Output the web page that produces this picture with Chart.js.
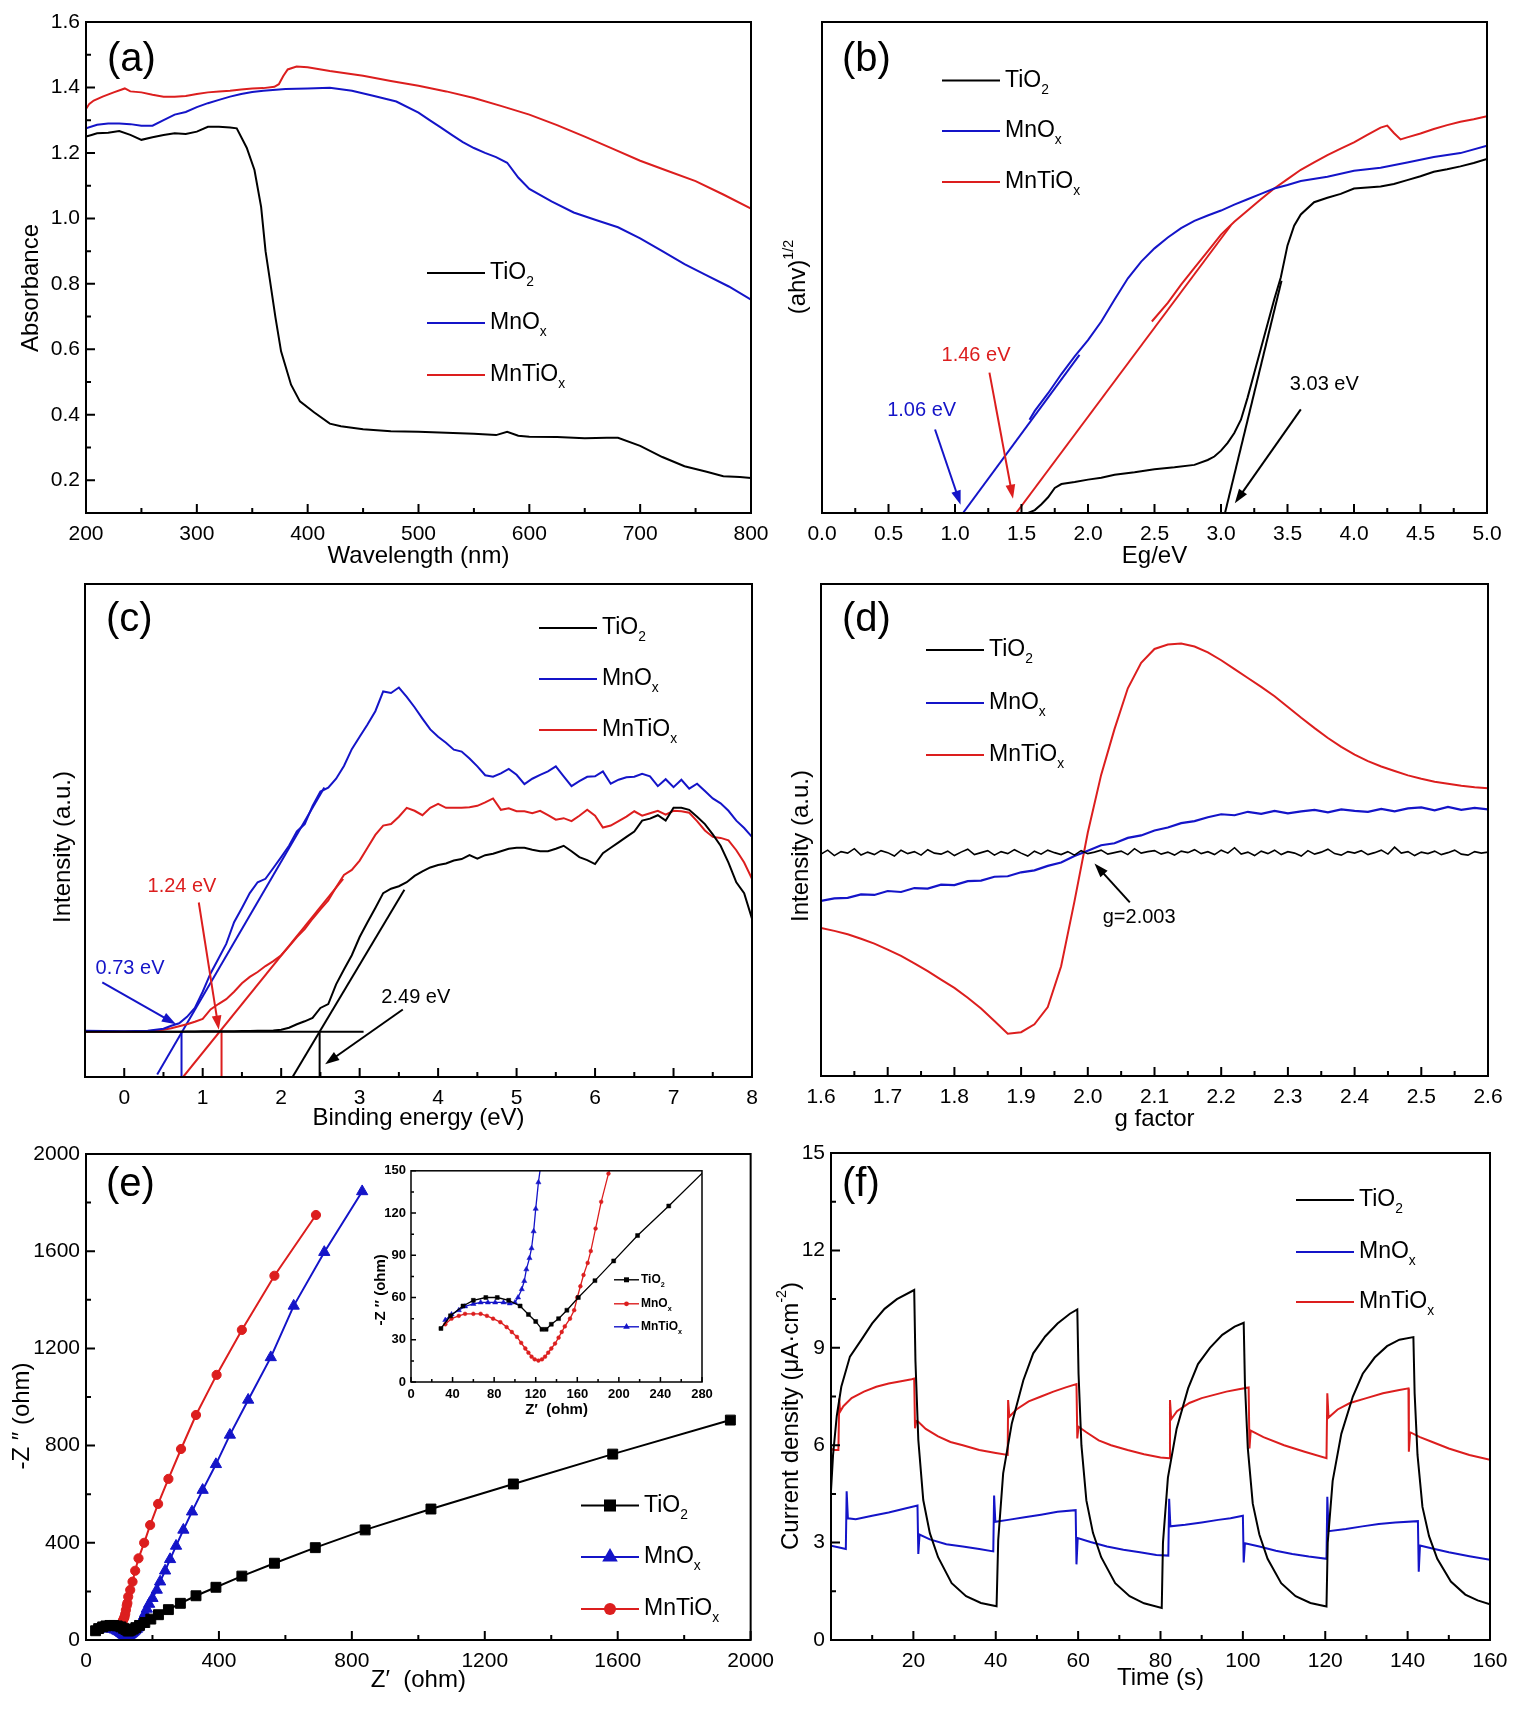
<!DOCTYPE html>
<html>
<head>
<meta charset="utf-8">
<script src="https://cdn.jsdelivr.net/npm/chart.js@4.4.1/dist/chart.umd.min.js"></script>
<style>
html, body { margin: 0; padding: 0; background: #fff; }
#page { position: relative; width: 1514px; height: 1717px; overflow: hidden; background: #fff; }
#page canvas { position: absolute; }
</style>
</head>
<body>
<div id="page"></div>
<script>
// (a) absorbance vs wavelength
var aWlTiO2 = [200,205,210,220,230,240,250,260,270,280,290,300,310,320,330,336,345,352,358,362,366,371,376,385,393,406,420,430,450,475,500,525,550,570,580,590,600,625,650,670,680,700,720,740,760,775,790,800];
var aTiO2 = [1.25,1.255,1.26,1.262,1.267,1.255,1.24,1.248,1.255,1.26,1.258,1.265,1.28,1.28,1.278,1.275,1.216,1.148,1.035,0.90,0.81,0.696,0.594,0.492,0.441,0.407,0.373,0.365,0.356,0.35,0.348,0.345,0.342,0.338,0.348,0.336,0.333,0.332,0.328,0.33,0.33,0.305,0.271,0.243,0.226,0.212,0.21,0.207];
var aWlMnOx = [200,210,220,230,240,250,260,270,280,290,300,310,320,330,340,350,360,380,400,420,440,460,480,500,510,520,530,540,550,560,570,580,590,600,620,640,660,680,700,720,740,760,780,800];
var aMnOx = [1.275,1.286,1.29,1.29,1.288,1.283,1.283,1.30,1.317,1.325,1.34,1.352,1.362,1.372,1.38,1.386,1.39,1.395,1.397,1.399,1.39,1.374,1.357,1.323,1.30,1.278,1.255,1.233,1.215,1.2,1.187,1.17,1.125,1.09,1.052,1.018,0.995,0.973,0.939,0.9,0.86,0.826,0.792,0.752];
var aWlMnTi = [200,203,207,215,225,235,240,250,260,270,280,290,300,310,320,330,340,350,360,370,374,378,382,390,400,420,450,475,500,525,550,575,600,625,650,675,700,725,750,775,800];
var aMnTi = [1.334,1.35,1.36,1.372,1.385,1.397,1.388,1.385,1.378,1.372,1.372,1.374,1.38,1.385,1.388,1.39,1.394,1.397,1.398,1.402,1.41,1.435,1.455,1.464,1.462,1.45,1.436,1.42,1.405,1.388,1.368,1.343,1.317,1.285,1.25,1.213,1.176,1.145,1.114,1.073,1.03];
var aXTicks = [200,300,400,500,600,700,800];
var aYTicks = [0.2,0.4,0.6,0.8,1.0,1.2,1.4,1.6];

// (b) Tauc plot
var bETiO2 = [1.55,1.6,1.65,1.7,1.75,1.8,1.9,2.0,2.1,2.2,2.35,2.5,2.65,2.8,2.9,2.95,3.0,3.05,3.1,3.15,3.2,3.25,3.3,3.35,3.4,3.45,3.5,3.55,3.6,3.7,3.8,3.9,4.0,4.1,4.2,4.3,4.4,4.5,4.6,4.7,4.8,4.9,5.0];
var bTiO2 = [0,0.6,1.8,3.2,5.1,5.9,6.3,6.8,7.2,7.8,8.3,8.9,9.3,9.8,10.8,11.5,12.7,14.3,16.3,19.0,23.5,28.5,33.5,38.5,43.5,48.0,54.5,58.5,60.8,63.3,64.2,65.0,66.1,66.3,66.5,67.0,67.8,68.6,69.5,70.0,70.6,71.3,72.1];
var bEMnOx = [1.56,1.6,1.7,1.8,1.9,2.0,2.1,2.2,2.3,2.4,2.5,2.6,2.7,2.8,2.9,3.0,3.1,3.2,3.3,3.4,3.5,3.6,3.8,4.0,4.2,4.4,4.6,4.8,5.0];
var bMnOx = [19.0,20.8,24.4,28.3,31.9,35.2,39,43.5,47.8,51.2,53.9,56.1,58.0,59.5,60.6,61.6,62.8,63.9,65.0,66.1,66.8,67.6,68.5,69.7,70.3,71.4,72.5,73.3,74.8];
var bEMnTi = [2.48,2.6,2.7,2.8,2.9,3.0,3.1,3.2,3.3,3.4,3.5,3.6,3.7,3.8,3.9,4.0,4.1,4.2,4.25,4.3,4.35,4.4,4.5,4.6,4.7,4.8,4.9,5.0];
var bMnTi = [39,42.8,46.5,49.9,53.3,56.7,59.3,61.6,63.9,66.1,68,69.9,71.4,72.9,74.2,75.5,77,78.5,78.9,77.4,76.1,76.5,77.3,78.2,79,79.7,80.2,80.8];
var bFitTiO2X = [3.03, 3.455], bFitTiO2Y = [0, 47.3];
var bFitMnOxX = [1.06, 1.936], bFitMnOxY = [0, 32.2];
var bFitMnTiX = [1.46, 3.075], bFitMnTiY = [0, 58.6];
var bXTicks = [0,0.5,1.0,1.5,2.0,2.5,3.0,3.5,4.0,4.5,5.0];

// (c) valence band XPS
var cBE = [-0.5,0,0.3,0.5,0.6,0.7,0.8,0.9,1.0,1.1,1.2,1.3,1.4,1.5,1.6,1.7,1.8,1.9,2.0,2.1,2.2,2.3,2.4,2.5,2.6,2.7,2.8,2.9,3.0,3.1,3.2,3.3,3.4,3.5,3.6,3.7,3.8,3.9,4.0,4.1,4.2,4.3,4.4,4.5,4.6,4.7,4.8,4.9,5.0,5.1,5.2,5.3,5.4,5.5,5.6,5.7,5.8,5.9,6.0,6.1,6.2,6.3,6.4,6.5,6.6,6.7,6.8,6.9,7.0,7.1,7.2,7.3,7.4,7.5,7.6,7.7,7.8,7.9,8.0];
var cMnOx = [9.4,9.3,9.4,9.8,10.4,10.9,12.2,14.0,17.3,21.0,24.0,27.0,31.4,34.3,37.3,39.5,40.2,42.4,44.6,46.9,49.8,51.3,55.0,57.9,58.7,60.5,63.1,66.5,69.0,71.5,74.2,78.2,77.9,79.0,77.1,75.0,72.7,70.5,69.0,67.8,66.4,66.0,64.6,63.0,61.2,60.9,61.6,62.5,61.3,59.4,60.5,61.3,62.0,63.0,61.0,59.0,60.0,60.9,61.0,62.0,59.5,60.3,60.8,60.9,61.5,61.0,59.0,60.4,58.8,60.3,58.5,59.5,58.0,56.5,55.5,54.0,52.0,50.5,48.7];
var cMnTi = [9.2,9.2,9.3,9.6,9.9,10.3,10.7,11.2,11.8,13.7,14.8,15.8,17.3,19.0,20.3,21.3,22.5,23.5,24.7,26.5,28.4,30.0,32.1,34.0,35.8,38.5,41.0,42.0,43.9,46.5,49.1,51.0,51.3,52.8,54.6,54.0,53.1,54.6,55.4,54.6,54.6,54.6,54.7,55.0,55.7,56.5,54.2,54.5,53.9,53.9,53.5,54.0,53.1,52.2,52.5,51.9,53.0,54.2,53.0,50.6,51.0,51.9,52.8,53.9,53.0,53.5,54.0,53.2,54.0,53.9,53.6,51.9,50.0,48.7,48.5,48.0,46.0,43.5,40.2];
var cTiO2 = [9.2,9.2,9.2,9.2,9.2,9.2,9.25,9.25,9.3,9.3,9.3,9.3,9.3,9.35,9.35,9.4,9.4,9.45,9.6,10.0,10.7,11.3,12.0,14.0,14.8,18.8,21.8,24.7,28.4,31.4,34.3,37.3,38.2,38.7,39.5,40.8,41.7,42.5,43.0,43.3,43.9,44.2,45.0,44.3,45.0,45.3,45.8,46.3,46.5,46.5,46.1,45.8,45.8,46.3,46.9,45.8,44.6,44.0,43.2,45.4,46.5,47.6,48.7,49.8,52.0,52.4,53.1,52.0,54.6,54.6,54.2,52.8,51.3,49.2,46.9,43.5,39.5,37.3,32.1];
var cBaseX = [-0.5, 3.05], cBaseY = [9.2, 9.2];
var cFitMnOxX = [0.42, 2.55], cFitMnOxY = [0.5, 58.7];
var cFitMnTiX = [0.75, 2.79], cFitMnTiY = [0, 40.2];
var cFitTiO2X = [2.145, 3.57], cFitTiO2Y = [0, 38];
var cDropMnOxX = [0.73, 0.73], cDropMnTiX = [1.24, 1.24], cDropTiO2X = [2.49, 2.49], cDropY = [0, 9.2];
var cXTicks = [0,1,2,3,4,5,6,7,8];

// (d) EPR
var dGFine = [1.60,1.61,1.62,1.63,1.64,1.65,1.66,1.67,1.68,1.69,1.70,1.71,1.72,1.73,1.74,1.75,1.76,1.77,1.78,1.79,1.80,1.81,1.82,1.83,1.84,1.85,1.86,1.87,1.88,1.89,1.90,1.91,1.92,1.93,1.94,1.95,1.96,1.97,1.98,1.99,2.00,2.01,2.02,2.03,2.04,2.05,2.06,2.07,2.08,2.09,2.10,2.11,2.12,2.13,2.14,2.15,2.16,2.17,2.18,2.19,2.20,2.21,2.22,2.23,2.24,2.25,2.26,2.27,2.28,2.29,2.30,2.31,2.32,2.33,2.34,2.35,2.36,2.37,2.38,2.39,2.40,2.41,2.42,2.43,2.44,2.45,2.46,2.47,2.48,2.49,2.50,2.51,2.52,2.53,2.54,2.55,2.56,2.57,2.58,2.59,2.60];
var dTiO2 = [45.1,45.9,44.8,45.6,45.3,46.2,44.9,45.5,45.0,45.8,45.4,44.7,45.9,45.2,45.6,44.9,46.0,45.3,45.1,45.7,44.8,45.5,46.1,45.0,45.4,45.8,44.9,45.6,45.2,46.0,45.3,44.7,45.7,45.1,45.9,45.4,45.0,45.6,44.9,45.8,45.2,45.5,45.9,45.1,45.4,45.7,45.0,46.2,45.3,45.6,45.8,45.1,45.5,44.9,45.7,45.4,46.0,45.2,45.6,45.0,45.9,45.3,46.4,45.1,45.5,44.8,45.7,45.2,45.9,45.0,45.6,45.3,44.7,45.8,45.1,45.5,46.1,45.2,44.9,45.6,45.3,45.8,45.0,45.4,45.9,45.1,46.5,45.3,45.6,44.8,45.5,45.2,45.7,45.0,45.4,45.9,45.1,44.9,45.6,45.3,45.5];
var dG = [1.6,1.62,1.64,1.66,1.68,1.7,1.72,1.74,1.76,1.78,1.8,1.82,1.84,1.86,1.88,1.9,1.92,1.94,1.96,1.98,2.0,2.02,2.04,2.06,2.08,2.1,2.12,2.14,2.16,2.18,2.2,2.22,2.24,2.26,2.28,2.3,2.32,2.34,2.36,2.38,2.4,2.42,2.44,2.46,2.48,2.5,2.52,2.54,2.56,2.58,2.6];
var dMnOx = [35.6,36.1,36.2,36.9,36.8,37.6,37.4,38.2,38.1,38.9,38.8,39.6,39.7,40.5,40.6,41.4,41.8,42.7,43.4,44.7,45.8,46.9,47.3,48.4,48.9,49.9,50.5,51.4,51.8,52.6,53.2,53.0,53.7,53.3,53.9,53.4,53.8,54.1,53.6,54.2,53.9,53.7,54.3,53.8,54.4,54.6,54.0,54.7,54.1,54.5,54.2];
var dMnTi = [30.1,29.5,28.8,27.9,26.9,25.7,24.4,22.9,21.3,19.6,17.9,15.9,13.7,11.2,8.6,8.9,10.5,14.0,22.3,35.5,49.5,61.2,70.5,78.8,84.0,86.8,87.7,87.9,87.3,86.1,84.5,82.7,80.9,79.1,77.2,75.0,72.8,70.7,68.7,66.9,65.3,64.0,62.9,62.0,61.1,60.4,59.8,59.4,59.0,58.7,58.5];
var dXTicks = [1.6,1.7,1.8,1.9,2.0,2.1,2.2,2.3,2.4,2.5,2.6];

// (e) Nyquist plots (inset shows the same points near the origin)
var eTiO2X = [28.8,38,50,60,72,83,94,105,113,120,126,130,135,142,150,161,177,195,218,248,284,331,391,469,567,690,840,1038,1286,1585,1939];
var eTiO2Y = [38,47,54,58,60,60,58,54,48,43,37.4,37.4,41,45,51,60,72,86,104,125,151,182,217,263,316,380,453,539,642,765,905];
var eMnOxX = [33,39,46,52,60,67,73,79,86,92,97,102,106,110,113,116,119,122.6,126,129,132,135,138.6,142,145,148,153,157,160,163,166,170,173,177.6,183,190,200,213,223,238,253,271,293,319,351,391,433,488,556,625,717,831];
var eMnOxY = [41,45,47,48.4,48.4,48.4,47,45,42.5,39,35.5,32,27.8,23.8,20.8,18,16.1,15.2,16.1,18,20.8,23.8,27.3,31.5,35.5,39.5,45,51,60,68,76,84.6,93,109,128,148,172,206,240,285,332,387,453,528,617,723,844,988,1163,1375,1596,1846];
var eMnTiX = [33,39,46,52,60,67,74,81,89,95,100,103,106.6,109,111,114,116,118,120,122.6,124.5,127,133,140,148,158,175,193,217,248,286,331,393,469,567,692];
var eMnTiY = [44,48,51,53.7,55.4,56.5,56.5,56.5,56.5,55.8,56.5,60,65.9,71.7,80,88,95,107,123,141.8,152,178,206,240,285,336,400,473,560,663,786,926,1091,1276,1499,1749];
var eTicks = [0,400,800,1200,1600,2000];
var insXTicks = [0,40,80,120,160,200,240,280];
var insYTicks = [0,30,60,90,120,150];

// (f) photocurrent response
var fTTiO2 = [0,0.5,1.4,2.5,4.6,7.4,10,13,16,20.2, 20.5,21.2,22.4,24,26,29.3,32.8,36.4,40.2, 40.6,41.8,43.9,46.7,49.1,52,55,58,59.8, 60.1,60.8,62,63.6,65.6,69,72.5,76,80.3, 80.6,81.8,83.9,86.7,89.1,92,95,98,100.2, 100.5,101.2,102.4,104,106,109.3,112.8,116.4,120.3, 120.6,121.8,123.9,126.7,129.1,132,135,138,141.4, 141.7,142.4,143.6,145.2,147.2,150.5,154,157,160];
var fTiO2 = [4.6,5.7,6.9,7.8,8.73,9.25,9.75,10.2,10.5,10.78, 8.6,6.16,4.31,3.29,2.55,1.75,1.35,1.14,1.04, 3.08,5.13,6.67,8.0,8.83,9.35,9.75,10.05,10.18, 8.2,6.0,4.3,3.3,2.55,1.75,1.35,1.13,0.99, 3.0,5.0,6.5,7.75,8.5,9.0,9.4,9.65,9.77, 7.9,5.9,4.2,3.25,2.5,1.75,1.35,1.14,1.03, 3.0,4.9,6.35,7.5,8.2,8.7,9.05,9.25,9.33, 7.6,5.7,4.1,3.2,2.5,1.8,1.4,1.22,1.1];
var fTMnOx = [0,2,3.6,3.8,4.1,6,10,14,18,21.0, 21.2,21.5,24,28,32,36,39.4, 39.6,39.9,43,47,51,55,59.4, 59.6,59.9,63,67,71,75,79,81.9, 82.1,82.4,86,90,94,97,100, 100.2,100.5,104,108,112,116,120.3, 120.5,120.8,125,129,133,137,142.5, 142.7,143,146,150,155,160];
var fMnOx = [2.9,2.85,2.8,4.58,3.75,3.72,3.83,3.93,4.05,4.14, 2.65,3.25,3.1,2.95,2.88,2.8,2.73, 4.45,3.64,3.7,3.78,3.86,3.95,4.0, 2.33,3.14,3.02,2.88,2.78,2.7,2.62,2.6, 4.35,3.5,3.55,3.62,3.7,3.75,3.83, 2.39,2.98,2.88,2.75,2.65,2.57,2.5, 4.41,3.35,3.42,3.5,3.57,3.62,3.66, 2.1,2.91,2.82,2.7,2.58,2.47];
var fTMnTi = [0,0.6,1.8,2.0,2.2,3,5,8,11,14,17,19.6,20.2, 20.4,20.7,21.2,23,26,29,32,36,40,42.9, 43.0,43.3,45,48,51,54,57,59.6, 59.8,60.1,62,65,68,72,76,80,82.2, 82.3,82.6,84,87,90,93,96,99,101.4, 101.6,101.9,105,110,115,120.3, 120.5,120.8,123,126,130,134,138,140.2, 140.3,140.6,143,146,150,155,160];
var fMnTi = [5.9,5.85,5.85,7.44,7.03,7.2,7.45,7.65,7.8,7.9,7.97,8.03,8.05, 6.52,6.75,6.72,6.5,6.27,6.1,6.0,5.85,5.76,5.7, 7.39,6.88,7.1,7.35,7.5,7.65,7.78,7.88, 6.21,6.57,6.4,6.15,6.0,5.85,5.72,5.62,5.6, 7.39,6.8,7.05,7.3,7.45,7.55,7.65,7.72,7.78, 5.9,6.45,6.25,6.0,5.8,5.6, 7.6,6.85,7.1,7.3,7.45,7.6,7.7,7.75, 5.8,6.4,6.25,6.1,5.9,5.7,5.55];
var fXTicks = [20,40,60,80,100,120,140,160];
var fYTicks = [0,3,6,9,12,15];

var FONT = '"Liberation Sans", Arial, Helvetica, sans-serif';
var BLACK = '#000000', BLUE = '#1414c8', RED = '#dc1e1e';
var page = document.getElementById('page');

function xy(xs, ys) { return xs.map(function (v, i) { return {x: v, y: ys[i]}; }); }

function line(xs, ys, color, extra) {
  return Object.assign({data: xy(xs, ys), borderColor: color, backgroundColor: color,
    showLine: true, pointRadius: 0, borderWidth: 2, tension: 0}, extra || {});
}

// text with _{sub} and ^{sup} parts
function rich(ctx, s, x, y, size, opt) {
  opt = opt || {};
  var parts = [], re = /([_^])\{([^}]*)\}/g, last = 0, m;
  while ((m = re.exec(s))) {
    if (m.index > last) parts.push({t: s.slice(last, m.index), k: ''});
    parts.push({t: m[2], k: m[1]});
    last = re.lastIndex;
  }
  if (last < s.length) parts.push({t: s.slice(last), k: ''});
  var font = function (k) { return (opt.weight || 'normal') + ' ' + (k ? size * 0.6 : size) + 'px ' + FONT; };
  var w = 0;
  parts.forEach(function (p) { ctx.font = font(p.k); p.w = ctx.measureText(p.t).width; w += p.w; });
  ctx.save();
  ctx.translate(x, y);
  if (opt.rot) ctx.rotate(opt.rot);
  var cx = opt.align === 'center' ? -w / 2 : 0;
  ctx.textAlign = 'left'; ctx.textBaseline = 'middle';
  ctx.fillStyle = opt.color || '#000';
  parts.forEach(function (p) {
    ctx.font = font(p.k);
    var dy = p.k === '_' ? size * 0.42 : (p.k === '^' ? -size * 0.38 : 0);
    ctx.fillText(p.t, cx, dy);
    cx += p.w;
  });
  ctx.restore();
}

function marker(ctx, style, x, y, r) {
  ctx.beginPath();
  if (style === 'rect') {
    var h = r * Math.SQRT1_2;
    ctx.rect(x - h, y - h, 2 * h, 2 * h);
  } else if (style === 'triangle') {
    ctx.moveTo(x, y - r);
    ctx.lineTo(x + r * 0.866, y + r * 0.5);
    ctx.lineTo(x - r * 0.866, y + r * 0.5);
    ctx.closePath();
  } else {
    ctx.arc(x, y, r, 0, Math.PI * 2);
  }
  ctx.fill();
}

function arrow(ctx, x1, y1, x2, y2, color, head) {
  var ang = Math.atan2(y2 - y1, x2 - x1);
  ctx.strokeStyle = color; ctx.fillStyle = color; ctx.lineWidth = 2;
  ctx.beginPath();
  ctx.moveTo(x1, y1);
  ctx.lineTo(x2 - Math.cos(ang) * head * 0.8, y2 - Math.sin(ang) * head * 0.8);
  ctx.stroke();
  ctx.beginPath();
  ctx.moveTo(x2, y2);
  ctx.lineTo(x2 - head * Math.cos(ang - 0.33), y2 - head * Math.sin(ang - 0.33));
  ctx.lineTo(x2 - head * Math.cos(ang + 0.33), y2 - head * Math.sin(ang + 0.33));
  ctx.closePath();
  ctx.fill();
}

// inward major + minor tick marks, taken from the scale's own ticks
function tickValues(scale) {
  var major = scale.ticks.map(function (t) { return t.value; });
  var minor = [];
  if (major.length > 1) {
    var step = major[1] - major[0], eps = step * 1e-3;
    major.forEach(function (v) { if (v - step / 2 > scale.min + eps) minor.push(v - step / 2); });
    var lastV = major[major.length - 1] + step / 2;
    if (lastV < scale.max - eps) minor.push(lastV);
  }
  return {major: major, minor: minor};
}

var decor = {
  id: 'decor',
  afterDatasetsDraw: function (chart, args, o) {
    var ctx = chart.ctx, a = chart.chartArea, sx = chart.scales.x, sy = chart.scales.y;
    var px = function (v) { return sx.getPixelForValue(v); };
    var py = function (v) { return sy.getPixelForValue(v); };
    ctx.save();
    (o.arrows || []).forEach(function (r) {
      arrow(ctx, px(r.from[0]), py(r.from[1]), px(r.to[0]), py(r.to[1]), r.color, o.head || 15);
    });
    (o.notes || []).forEach(function (n) {
      rich(ctx, n.text, px(n.at[0]), py(n.at[1]), 20, {align: 'center', color: n.color});
    });
    ctx.strokeStyle = '#000';
    ctx.lineWidth = o.frame || 2;
    ctx.strokeRect(a.left, a.top, a.right - a.left, a.bottom - a.top);
    var tl = o.tickLen || [9, 5];
    ctx.beginPath();
    if (o.xTicks) {
      var tx = tickValues(sx);
      tx.major.forEach(function (v) { ctx.moveTo(px(v), a.bottom); ctx.lineTo(px(v), a.bottom - tl[0]); });
      tx.minor.forEach(function (v) { ctx.moveTo(px(v), a.bottom); ctx.lineTo(px(v), a.bottom - tl[1]); });
    }
    if (o.yTicks) {
      var ty = tickValues(sy);
      ty.major.forEach(function (v) { ctx.moveTo(a.left, py(v)); ctx.lineTo(a.left + tl[0], py(v)); });
      ty.minor.forEach(function (v) { ctx.moveTo(a.left, py(v)); ctx.lineTo(a.left + tl[1], py(v)); });
    }
    ctx.stroke();
    if (o.legend) {
      var L = o.legend;
      L.rows.forEach(function (r) {
        var x0 = a.left + L.dx, y0 = a.top + r.dy;
        ctx.strokeStyle = r.color; ctx.fillStyle = r.color; ctx.lineWidth = L.width || 2;
        ctx.beginPath(); ctx.moveTo(x0, y0); ctx.lineTo(x0 + L.len, y0); ctx.stroke();
        if (r.marker) marker(ctx, r.marker, x0 + L.len / 2, y0, r.radius);
        rich(ctx, r.text, x0 + L.len + (L.gap || 5), y0, L.size, {weight: L.weight});
      });
    }
    if (o.xTitle) {
      rich(ctx, o.xTitle.text, (a.left + a.right) / 2 + (o.xTitle.dx || 0), a.bottom + o.xTitle.dy,
        o.xTitle.size || 24, {align: 'center', weight: o.xTitle.weight});
    }
    if (o.yTitle) {
      rich(ctx, o.yTitle.text, a.left + o.yTitle.dx, a.top + o.yTitle.dy,
        o.yTitle.size || 24, {align: 'center', rot: -Math.PI / 2, weight: o.yTitle.weight});
    }
    if (o.tag) rich(ctx, o.tag.text, a.left + o.tag.dx, a.top + o.tag.dy, 40, {});
    ctx.restore();
  }
};

function axis(min, max, ticks, opt) {
  opt = opt || {};
  return {
    type: 'linear', min: min, max: max,
    afterBuildTicks: function (s) { s.ticks = ticks.map(function (v) { return {value: v}; }); },
    grid: {display: false, drawTicks: false}, border: {display: false},
    ticks: {
      display: opt.show !== false, color: '#000', padding: opt.pad,
      maxRotation: 0, autoSkip: false,
      font: {family: FONT, size: opt.size || 21, weight: opt.weight || 'normal'},
      callback: function (v) { return v.toFixed(opt.dec || 0); }
    }
  };
}

// box = plot area on the page [left, top, right, bottom]; pad = room round it [l, t, r, b]
function panel(box, pad, datasets, xs, ys, deco) {
  var cv = document.createElement('canvas');
  var w = box[2] - box[0] + pad[0] + pad[2], h = box[3] - box[1] + pad[1] + pad[3];
  cv.width = w; cv.height = h;
  cv.style.left = (box[0] - pad[0]) + 'px';
  cv.style.top = (box[1] - pad[1]) + 'px';
  cv.style.width = w + 'px'; cv.style.height = h + 'px';
  page.appendChild(cv);
  xs.afterFit = function (s) { s.height = pad[3]; };
  ys.afterFit = function (s) { s.width = pad[0]; };
  return new Chart(cv, {
    type: 'scatter',
    data: {datasets: datasets},
    options: {
      responsive: false, animation: false, devicePixelRatio: 1,
      layout: {padding: {left: 0, top: pad[1], right: pad[2], bottom: 0}},
      plugins: {legend: {display: false}, tooltip: {enabled: false}, decor: deco},
      scales: {x: xs, y: ys}
    },
    plugins: [decor]
  });
}

var PAD = [84, 22, 32, 70];
var XP = 9, YP = 6;
var legendRows = function (dys) {
  return [
    {dy: dys[0], text: 'TiO_{2}', color: BLACK},
    {dy: dys[1], text: 'MnO_{x}', color: BLUE},
    {dy: dys[2], text: 'MnTiO_{x}', color: RED}
  ];
};

// (a)
panel([86, 22, 751, 513], PAD, [
  line(aWlTiO2, aTiO2, BLACK),
  line(aWlMnOx, aMnOx, BLUE),
  line(aWlMnTi, aMnTi, RED)
], axis(200, 800, aXTicks, {pad: XP}), axis(0.1, 1.6, aYTicks, {dec: 1, pad: YP}), {
  xTicks: true, yTicks: true,
  legend: {dx: 341, len: 58, size: 23, rows: legendRows([251, 301, 353])},
  xTitle: {text: 'Wavelength (nm)', dy: 43},
  yTitle: {text: 'Absorbance', dx: -55, dy: 266},
  tag: {text: '(a)', dx: 21, dy: 38}
});

// (b)
panel([822, 22, 1487, 513], PAD, [
  line(bETiO2, bTiO2, BLACK),
  line(bEMnOx, bMnOx, BLUE),
  line(bEMnTi, bMnTi, RED),
  line(bFitTiO2X, bFitTiO2Y, BLACK),
  line(bFitMnOxX, bFitMnOxY, BLUE),
  line(bFitMnTiX, bFitMnTiY, RED)
], axis(0, 5, bXTicks, {dec: 1, pad: XP}), axis(0, 100, [0, 100], {show: false}), {
  xTicks: true,
  legend: {dx: 120, len: 58, size: 23, rows: legendRows([58.6, 109, 160])},
  arrows: [
    {from: [0.85, 17.0], to: [1.042, 1.7], color: BLUE},
    {from: [1.259, 28.6], to: [1.436, 2.9], color: RED},
    {from: [3.60, 21.1], to: [3.104, 2.0], color: BLACK}
  ],
  notes: [
    {text: '1.06 eV', at: [0.749, 20.8], color: BLUE},
    {text: '1.46 eV', at: [1.158, 32.1], color: RED},
    {text: '3.03 eV', at: [3.777, 26.2], color: BLACK}
  ],
  xTitle: {text: 'Eg/eV', dy: 43},
  yTitle: {text: '(ahv)^{1/2}', dx: -24, dy: 255},
  tag: {text: '(b)', dx: 20, dy: 38}
});

// (c)
panel([85, 584, 752, 1077], PAD, [
  line(cBE, cTiO2, BLACK),
  line(cBE, cMnOx, BLUE),
  line(cBE, cMnTi, RED),
  line(cBaseX, cBaseY, BLACK),
  line(cFitMnOxX, cFitMnOxY, BLUE),
  line(cFitMnTiX, cFitMnTiY, RED),
  line(cFitTiO2X, cFitTiO2Y, BLACK),
  line(cDropMnOxX, cDropY, BLUE),
  line(cDropMnTiX, cDropY, RED),
  line(cDropTiO2X, cDropY, BLACK)
], axis(-0.5, 8, cXTicks, {pad: XP}), axis(0, 100, [0, 100], {show: false}), {
  xTicks: true,
  legend: {dx: 454, len: 58, size: 23, rows: legendRows([44, 95, 146])},
  arrows: [
    {from: [-0.28, 19.2], to: [0.66, 10.7], color: BLUE},
    {from: [0.95, 35.4], to: [1.205, 9.6], color: RED},
    {from: [3.55, 13.7], to: [2.56, 2.6], color: BLACK}
  ],
  notes: [
    {text: '0.73 eV', at: [0.074, 22.0], color: BLUE},
    {text: '1.24 eV', at: [0.736, 38.6], color: RED},
    {text: '2.49 eV', at: [3.716, 16.1], color: BLACK}
  ],
  xTitle: {text: 'Binding energy (eV)', dy: 41},
  yTitle: {text: 'Intensity (a.u.)', dx: -22, dy: 263},
  tag: {text: '(c)', dx: 21, dy: 36}
});

// (d)
panel([821, 584, 1488, 1076], PAD, [
  line(dGFine, dTiO2, BLACK, {borderWidth: 1.6}),
  line(dG, dMnOx, BLUE, {borderWidth: 2.2}),
  line(dG, dMnTi, RED, {borderWidth: 2})
], axis(1.6, 2.6, dXTicks, {dec: 1, pad: XP}), axis(0, 100, [0, 100], {show: false}), {
  xTicks: true,
  legend: {dx: 105, len: 58, size: 23, rows: legendRows([66, 119, 171])},
  arrows: [{from: [2.063, 35.3], to: [2.010, 43.2], color: BLACK}],
  notes: [{text: 'g=2.003', at: [2.077, 32.2], color: BLACK}],
  xTitle: {text: 'g factor', dy: 43},
  yTitle: {text: 'Intensity (a.u.)', dx: -20, dy: 262},
  tag: {text: '(d)', dx: 21, dy: 36}
});

// (e) main
var mainPts = function (style, r) {
  return {pointRadius: r, pointStyle: style, pointBorderWidth: 1};
};
panel([86, 1154, 751, 1640], PAD, [
  line(eTiO2X, eTiO2Y, BLACK, mainPts('rect', 7)),
  line(eMnOxX, eMnOxY, BLUE, mainPts('triangle', 6.5)),
  line(eMnTiX, eMnTiY, RED, mainPts('circle', 4.6))
], axis(0, 2000, eTicks, {pad: XP}), axis(0, 2000, eTicks, {pad: YP}), {
  xTicks: true, yTicks: true,
  legend: {dx: 495, len: 58, size: 23, rows: [
    {dy: 351.5, text: 'TiO_{2}', color: BLACK, marker: 'rect', radius: 8.5},
    {dy: 403, text: 'MnO_{x}', color: BLUE, marker: 'triangle', radius: 9},
    {dy: 455, text: 'MnTiO_{x}', color: RED, marker: 'circle', radius: 6}
  ]},
  xTitle: {text: 'Z\u2032  (ohm)', dy: 40},
  yTitle: {text: '-Z \u2033 (ohm)', dx: -64, dy: 262},
  tag: {text: '(e)', dx: 20, dy: 31}
});

// (e) inset, same points close to the origin
var insPts = function (style, r) {
  return {pointRadius: r, pointStyle: style, pointBorderWidth: 0.5, borderWidth: 1.3};
};
panel([411, 1168, 702, 1382], [46, 10, 16, 46], [
  line(eTiO2X, eTiO2Y, BLACK, insPts('rect', 2.8)),
  line(eMnOxX, eMnOxY, RED, insPts('circle', 1.9)),
  line(eMnTiX, eMnTiY, BLUE, insPts('triangle', 3))
], axis(0, 280, insXTicks, {size: 13, weight: 'bold', pad: 5}),
   axis(0, 150, insYTicks, {size: 13, weight: 'bold', pad: 5}), {
  xTicks: true, yTicks: true, frame: 1.5, tickLen: [5, 3],
  legend: {dx: 203, len: 25, size: 12, weight: 'bold', gap: 2, width: 1.4, rows: [
    {dy: 109, text: 'TiO_{2}', color: BLACK, marker: 'rect', radius: 3.5},
    {dy: 133, text: 'MnO_{x}', color: RED, marker: 'circle', radius: 2.4},
    {dy: 156, text: 'MnTiO_{x}', color: BLUE, marker: 'triangle', radius: 3.8}
  ]},
  xTitle: {text: 'Z\u2032  (ohm)', dy: 28, size: 15, weight: 'bold'},
  yTitle: {text: '-Z \u2033 (ohm)', dx: -30, dy: 119, size: 15, weight: 'bold'}
});

// (f)
panel([831, 1153, 1490, 1640], PAD, [
  line(fTTiO2, fTiO2, BLACK),
  line(fTMnOx, fMnOx, BLUE),
  line(fTMnTi, fMnTi, RED)
], axis(0, 160, fXTicks, {pad: XP}), axis(0, 15, fYTicks, {pad: YP}), {
  xTicks: true, yTicks: true,
  legend: {dx: 465, len: 58, size: 23, rows: legendRows([47, 99, 149])},
  xTitle: {text: 'Time (s)', dy: 38},
  yTitle: {text: 'Current density (\u03bcA\u00b7cm^{-2})', dx: -40, dy: 263},
  tag: {text: '(f)', dx: 11, dy: 32}
});
</script>
</body>
</html>
